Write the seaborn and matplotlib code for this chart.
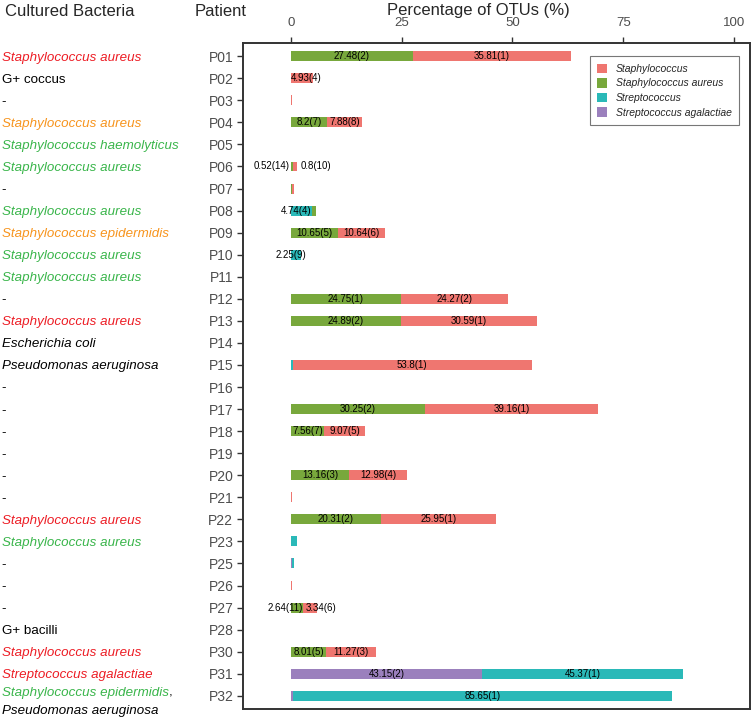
import numpy as np
import pandas as pd
import seaborn as sns
import matplotlib.pyplot as plt
import matplotlib.transforms as mtransforms
from matplotlib.patches import Patch

# patients in plotting order (no P24 / P29)
patients = ['P01', 'P02', 'P03', 'P04', 'P05', 'P06', 'P07', 'P08', 'P09', 'P10',
            'P11', 'P12', 'P13', 'P14', 'P15', 'P16', 'P17', 'P18', 'P19', 'P20',
            'P21', 'P22', 'P23', 'P25', 'P26', 'P27', 'P28', 'P30', 'P31', 'P32']

# culture result per patient and how it agrees with sequencing
cultured = ['Staphylococcus aureus', 'G+ coccus', '-', 'Staphylococcus aureus',
            'Staphylococcus haemolyticus', 'Staphylococcus aureus', '-',
            'Staphylococcus aureus', 'Staphylococcus epidermidis', 'Staphylococcus aureus',
            'Staphylococcus aureus', '-', 'Staphylococcus aureus', 'Escherichia coli',
            'Pseudomonas aeruginosa', '-', '-', '-', '-', '-', '-',
            'Staphylococcus aureus', 'Staphylococcus aureus', '-', '-', '-',
            'G+ bacilli', 'Staphylococcus aureus', 'Streptococcus agalactiae',
            'Staphylococcus epidermidis']
culture_group = ['r', 'k', 'k', 'o', 'g', 'g', 'k', 'g', 'o', 'g',
                 'g', 'k', 'r', 'k', 'k', 'k', 'k', 'k', 'k', 'k',
                 'k', 'r', 'g', 'k', 'k', 'k', 'k', 'r', 'r', 'g']

# percentage of OTUs per taxon
staphylococcus = [35.81, 4.93, 0.35, 7.88, 0.1, 0.8, 0.35, 0, 10.64, 0,
                  0.1, 24.27, 30.59, 0.1, 53.8, 0.1, 39.16, 9.07, 0.05, 12.98,
                  0.2, 25.95, 0, 0, 0.15, 3.34, 0, 11.27, 0, 0]
staph_aureus = [27.48, 0, 0, 8.2, 0, 0.52, 0.3, 1.0, 10.65, 0,
                0, 24.75, 24.89, 0, 0, 0, 30.25, 7.56, 0, 13.16,
                0, 20.31, 0, 0, 0, 2.64, 0, 8.01, 0, 0]
streptococcus = [0, 0, 0, 0, 0, 0, 0, 4.74, 0, 2.25,
                 0, 0, 0, 0, 0.5, 0, 0, 0, 0, 0,
                 0, 0, 1.3, 0.4, 0, 0, 0.1, 0, 45.37, 85.65]
strep_agalactiae = [0, 0, 0, 0, 0, 0, 0, 0, 0, 0,
                    0, 0, 0, 0, 0, 0, 0, 0, 0, 0,
                    0, 0, 0, 0.3, 0, 0, 0, 0, 43.15, 0.4]

# rank labels (None = not labelled)
N = None
staphylococcus_rank = [1, 4, N, 8, N, 10, N, N, 6, N, N, 2, 1, N, 1, N, 1, 5, N, 4,
                       N, 1, N, N, N, 6, N, 3, N, N]
staph_aureus_rank = [2, N, N, 7, N, 14, N, N, 5, N, N, 1, 2, N, N, N, 2, 7, N, 3,
                     N, 2, N, N, N, 11, N, 5, N, N]
streptococcus_rank = [N, N, N, N, N, N, N, 4, N, 9, N, N, N, N, N, N, N, N, N, N,
                      N, N, N, N, N, N, N, N, 1, 1]
strep_agalactiae_rank = [N] * 28 + [2, N]

taxa = ['Staphylococcus', 'Staphylococcus aureus', 'Streptococcus',
        'Streptococcus agalactiae']
colors = {'Staphylococcus': '#ef7670', 'Staphylococcus aureus': '#78a83c',
          'Streptococcus': '#2ab9b8', 'Streptococcus agalactiae': '#9b80bd'}
group_colors = {'r': '#ed1c24', 'o': '#f7941d', 'g': '#39b54a', 'k': 'black'}

df = pd.DataFrame({'patient': patients,
                   'Streptococcus agalactiae': strep_agalactiae,
                   'Streptococcus': streptococcus,
                   'Staphylococcus aureus': staph_aureus,
                   'Staphylococcus': staphylococcus})
stack_order = ['Streptococcus agalactiae', 'Streptococcus',
               'Staphylococcus aureus', 'Staphylococcus']
ranks = {'Streptococcus agalactiae': strep_agalactiae_rank,
         'Streptococcus': streptococcus_rank,
         'Staphylococcus aureus': staph_aureus_rank,
         'Staphylococcus': staphylococcus_rank}
cum = df[stack_order].cumsum(axis=1)
n = len(patients)

sns.set_style('white')
plt.rcParams['font.family'] = ['Liberation Sans', 'DejaVu Sans']

fig = plt.figure(figsize=(7.53, 7.18), dpi=100)
ax = fig.add_axes([243 / 753, 1 - 709 / 718, 507 / 753, 666 / 718])

# stacked bars: draw cumulative totals, outermost layer first
for taxon in reversed(stack_order):
    sns.barplot(x=cum[taxon], y=df['patient'], orient='h', color=colors[taxon],
                saturation=1, width=0.45, errorbar=None, linewidth=0, ax=ax)

# segment labels "value(rank)"
for i in range(n):
    vals = df[stack_order].iloc[i].values
    starts = cum[stack_order].iloc[i].values - vals
    labelled = [k for k, t in enumerate(stack_order) if ranks[t][i] is not None]
    for k in labelled:
        t = stack_order[k]
        v, s = vals[k], starts[k]
        txt = f'{v:g}({ranks[t][i]})'
        following = vals[k + 1:].sum() > 0.4
        dx = 0
        if v >= 6:
            x, ha = s + v / 2, 'center'
        elif v < 1:
            if following:
                x, ha, dx = s, 'right', -1
            else:
                x, ha, dx = s + v, 'left', 2.5
        elif following:
            x, ha = s + v, 'right'
        elif k == labelled[0] and len(labelled) == 1:
            x, ha = (s, 'center') if v < 3 else (s, 'left')
        else:
            x, ha, dx = s, 'left', 2.5
        ax.annotate(txt, (x, i), xytext=(dx, 0), textcoords='offset points',
                    ha=ha, va='center', fontsize=7, color='black')

ax.set_xlim(-10.8, 103.6)
ax.set_ylim(n - 0.4, -0.6)
ax.set_xticks([0, 25, 50, 75, 100])
ax.xaxis.tick_top()
ax.set_xlabel('')
ax.set_ylabel('')
ax.tick_params(axis='x', top=True, bottom=False, length=4, width=1, color='#333333',
               labelsize=9.5, labelcolor='#4d4d4d', pad=6)
ax.tick_params(axis='y', left=True, length=4, width=1, color='#333333',
               labelsize=10, labelcolor='#4d4d4d', pad=3)
for sp in ax.spines.values():
    sp.set_color('#333333')
    sp.set_linewidth(1.4)

# legend
handles = [Patch(facecolor=colors[t], edgecolor='none', label=t) for t in taxa]
leg = ax.legend(handles=handles, loc='upper right', bbox_to_anchor=(0.978, 0.98),
                borderaxespad=0, fancybox=False, frameon=True,
                prop={'style': 'italic', 'size': 7.5},
                handlelength=1.0, handleheight=1.0, handletextpad=0.8,
                labelspacing=0.42, borderpad=0.7)
leg.get_frame().set_edgecolor('#555555')
leg.get_frame().set_linewidth(0.8)

# culture column
trans = mtransforms.blended_transform_factory(fig.transFigure, ax.transData)
for i, (name, grp) in enumerate(zip(cultured, culture_group)):
    style = 'normal' if name == '-' or name.startswith('G+') else 'italic'
    if patients[i] == 'P32':
        # two-line label: green species + black comma, then second species
        t = ax.text(0.002, i - 0.2, name, transform=trans, ha='left',
                    va='center_baseline', fontsize=9.6, style=style,
                    color=group_colors[grp])
        ax.annotate(',', xy=(1, 0), xycoords=t, ha='left', va='bottom',
                    fontsize=9.6, color='black')
        ax.text(0.002, i + 0.7, 'Pseudomonas aeruginosa', transform=trans,
                ha='left', va='center', fontsize=9.6, style='italic', color='black')
    else:
        ax.text(0.002, i, name, transform=trans, ha='left', va='center_baseline',
                fontsize=9.6, style=style, color=group_colors[grp])

fig.text(5 / 753, 1 - 11 / 718, 'Cultured Bacteria', ha='left', va='center', fontsize=12)
fig.text(195 / 753, 1 - 11 / 718, 'Patient', ha='left', va='center', fontsize=12)
fig.text(478 / 753, 1 - 11 / 718, 'Percentage of OTUs (%)', ha='center', va='center',
         fontsize=12)

fig.savefig('out.png', dpi=100)
